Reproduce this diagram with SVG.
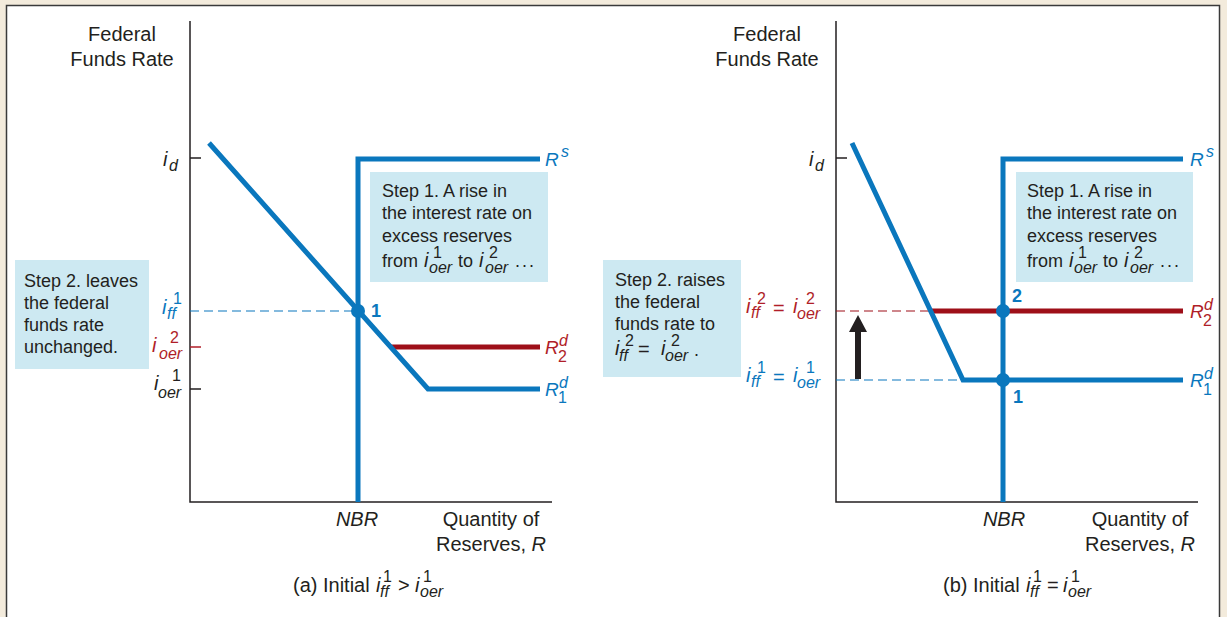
<svg xmlns="http://www.w3.org/2000/svg" width="1227" height="617" viewBox="0 0 1227 617">
<style>
text{font-family:"Liberation Sans",Arial,sans-serif;fill:#231f20}
.l{font-size:20px}
.b{font-size:18px}
.it{font-style:italic}
.mi{font-style:italic;font-size:20px}
.s{font-size:16px}
.m{font-size:16px}
.bl{fill:#0a77bd}
.rd{fill:#b01e28}
.ax{stroke:#231f20;stroke-width:1.5;fill:none}
.cb{stroke:#0a77bd;stroke-width:5;fill:none}
.cr{stroke:#9e0f19;stroke-width:5;fill:none}
.db{stroke:#0a77bd;stroke-width:1.2;stroke-dasharray:9 5;fill:none}
.dr{stroke:#9e0f19;stroke-width:1.2;stroke-dasharray:9 5;fill:none}
.box{fill:#cde9f2}
.pt{fill:#0a77bd}
.n{font-size:18px;font-weight:bold;fill:#0a77bd}
</style>
<rect x="0" y="0" width="1227" height="617" fill="#f3ebdc"/>
<rect x="6.5" y="5.5" width="1213" height="620" fill="#ffffff" stroke="#3a3a3a" stroke-width="1.5"/>

<!-- ===== Panel (a) ===== -->
<g id="panel-a-axes">
<path class="ax" d="M190,21 V502 H552"/>
<path class="ax" d="M190,158 H201 M190,389 H201"/>
<path d="M190,347 H201" stroke="#b01e28" stroke-width="1.5"/>
<text class="l" x="122" y="41" text-anchor="middle">Federal</text>
<text class="l" x="122" y="66" text-anchor="middle">Funds Rate</text>
<text class="l it" x="357" y="526" text-anchor="middle">NBR</text>
<text class="l" x="491" y="526" text-anchor="middle">Quantity of</text>
<text class="l" x="491" y="551" text-anchor="middle">Reserves, <tspan class="it">R</tspan></text>
<text class="l it"><tspan x="163" y="166">i</tspan><tspan class="m" x="169" y="171">d</tspan></text>
<text class="l it bl"><tspan x="162" y="314">i</tspan><tspan class="s" style="font-style:normal" x="173" y="304">1</tspan><tspan class="s" x="167" y="319">ff</tspan></text>
<text class="l it rd"><tspan x="152" y="352">i</tspan><tspan class="s" style="font-style:normal" x="170" y="343">2</tspan><tspan class="m" x="159" y="359">oer</tspan></text>
<text class="l it"><tspan x="154" y="390">i</tspan><tspan class="s" style="font-style:normal" x="172" y="381">1</tspan><tspan class="m" x="158" y="398">oer</tspan></text>
<text class="l"><tspan x="293" y="592">(a) Initial </tspan><tspan class="it" x="376" y="592">i</tspan><tspan class="s" x="383" y="582">1</tspan><tspan class="s it" x="380" y="597">ff</tspan><tspan x="398" y="592">&gt;</tspan><tspan class="it" x="415" y="592">i</tspan><tspan class="s" x="423" y="582">1</tspan><tspan class="m it" x="420" y="597">oer</tspan></text>
</g>

<g id="panel-a-connectors">
<path class="db" d="M190,311 H358"/>
<path class="cr" d="M391,347 H540"/>
<path class="cb" d="M209,143 L428,389 H540"/>
<path class="cb" d="M358,502 V159 H540"/>
</g>

<g id="a-point-1">
<circle class="pt" cx="358" cy="311" r="7"/>
<text class="n" x="371" y="317">1</text>
</g>

<g id="a-curve-labels">
<text class="l it bl" style="font-size:19px"><tspan x="545" y="166">R</tspan><tspan class="s" x="561" y="157">s</tspan></text>
<text class="l it rd" style="font-size:19px"><tspan x="545" y="354">R</tspan><tspan class="s" x="559" y="346">d</tspan><tspan class="s" style="font-style:normal" x="558" y="362">2</tspan></text>
<text class="l it bl" style="font-size:19px"><tspan x="545" y="396">R</tspan><tspan class="s" x="559" y="388">d</tspan><tspan class="s" style="font-style:normal" x="558" y="403">1</tspan></text>
</g>

<g id="a-step1">
<rect class="box" x="370" y="172" width="178" height="110"/>
<text class="b" x="382" y="197">Step 1. A rise in</text>
<text class="b" x="382" y="219">the interest rate on</text>
<text class="b" x="382" y="242">excess reserves</text>
<text class="b"><tspan x="382" y="267">from </tspan><tspan class="mi" x="424" y="267">i</tspan><tspan class="s" x="433" y="258">1</tspan><tspan class="m it" x="429" y="273">oer</tspan><tspan x="458" y="267">to</tspan><tspan class="mi" x="479" y="267">i</tspan><tspan class="s" x="489" y="258">2</tspan><tspan class="m it" x="485" y="273">oer</tspan><tspan x="515" y="267" style="word-spacing:-3px">. . .</tspan></text>
</g>

<g id="a-step2">
<rect class="box" x="15" y="260" width="134" height="109"/>
<text class="b" x="24" y="287">Step 2. leaves</text>
<text class="b" x="24" y="309">the federal</text>
<text class="b" x="24" y="331">funds rate</text>
<text class="b" x="24" y="353">unchanged.</text>
</g>

<!-- ===== Panel (b) ===== -->
<g id="panel-b-axes">
<path class="ax" d="M836,21 V502 H1198"/>
<path class="ax" d="M836,158 H847"/>
<text class="l" x="767" y="41" text-anchor="middle">Federal</text>
<text class="l" x="767" y="66" text-anchor="middle">Funds Rate</text>
<text class="l it" x="1004" y="526" text-anchor="middle">NBR</text>
<text class="l" x="1140" y="526" text-anchor="middle">Quantity of</text>
<text class="l" x="1140" y="551" text-anchor="middle">Reserves, <tspan class="it">R</tspan></text>
<text class="l it"><tspan x="809" y="166">i</tspan><tspan class="m" x="815" y="171">d</tspan></text>
<text class="l it rd"><tspan x="746" y="313">i</tspan><tspan class="s" style="font-style:normal" x="757" y="304">2</tspan><tspan class="s" x="751" y="318">ff</tspan><tspan style="font-style:normal" x="773" y="315">=</tspan><tspan x="793" y="313">i</tspan><tspan class="s" style="font-style:normal" x="806" y="304">2</tspan><tspan class="m" x="797" y="319">oer</tspan></text>
<text class="l it bl"><tspan x="746" y="382">i</tspan><tspan class="s" style="font-style:normal" x="757" y="373">1</tspan><tspan class="s" x="751" y="387">ff</tspan><tspan style="font-style:normal" x="773" y="384">=</tspan><tspan x="793" y="382">i</tspan><tspan class="s" style="font-style:normal" x="806" y="373">1</tspan><tspan class="m" x="797" y="388">oer</tspan></text>
<text class="l"><tspan x="943" y="592">(b) Initial </tspan><tspan class="it" x="1026" y="592">i</tspan><tspan class="s" x="1033" y="582">1</tspan><tspan class="s it" x="1030" y="597">ff</tspan><tspan x="1047" y="592">=</tspan><tspan class="it" x="1063" y="592">i</tspan><tspan class="s" x="1071" y="582">1</tspan><tspan class="m it" x="1068" y="597">oer</tspan></text>
</g>

<g id="panel-b-connectors">
<path class="dr" d="M836,311 H931"/>
<path class="db" d="M836,380 H963"/>
<path class="cr" d="M931,311 H1183"/>
<path class="cb" d="M852,143 L963,380 H1183"/>
<path class="cb" d="M1003,502 V159 H1183"/>
<path d="M855,379 V332 H849 L858,315 L867,332 H861 V379 Z" fill="#231f20"/>
</g>

<g id="b-point-2">
<circle class="pt" cx="1003" cy="311" r="7"/>
<text class="n" x="1012" y="302">2</text>
</g>
<g id="b-point-1">
<circle class="pt" cx="1003" cy="380" r="7"/>
<text class="n" x="1013" y="403">1</text>
</g>

<g id="b-curve-labels">
<text class="l it bl" style="font-size:19px"><tspan x="1190" y="166">R</tspan><tspan class="s" x="1206" y="157">s</tspan></text>
<text class="l it rd" style="font-size:19px"><tspan x="1190" y="318">R</tspan><tspan class="s" x="1204" y="310">d</tspan><tspan class="s" style="font-style:normal" x="1203" y="326">2</tspan></text>
<text class="l it bl" style="font-size:19px"><tspan x="1190" y="387">R</tspan><tspan class="s" x="1204" y="379">d</tspan><tspan class="s" style="font-style:normal" x="1203" y="395">1</tspan></text>
</g>

<g id="b-step1">
<rect class="box" x="1016" y="172" width="177" height="110"/>
<text class="b" x="1027" y="197">Step 1. A rise in</text>
<text class="b" x="1027" y="219">the interest rate on</text>
<text class="b" x="1027" y="242">excess reserves</text>
<text class="b"><tspan x="1027" y="267">from </tspan><tspan class="mi" x="1069" y="267">i</tspan><tspan class="s" x="1078" y="258">1</tspan><tspan class="m it" x="1074" y="273">oer</tspan><tspan x="1103" y="267">to</tspan><tspan class="mi" x="1124" y="267">i</tspan><tspan class="s" x="1134" y="258">2</tspan><tspan class="m it" x="1130" y="273">oer</tspan><tspan x="1160" y="267" style="word-spacing:-3px">. . .</tspan></text>
</g>

<g id="b-step2">
<rect class="box" x="603" y="260" width="138" height="117"/>
<text class="b" x="615" y="286">Step 2. raises</text>
<text class="b" x="615" y="308">the federal</text>
<text class="b" x="615" y="330">funds rate to</text>
<text class="b"><tspan class="mi" x="615" y="355">i</tspan><tspan class="s" x="625" y="346">2</tspan><tspan class="s it" x="619" y="361">ff</tspan><tspan x="638" y="356" style="font-size:20px">=</tspan><tspan class="mi" x="661" y="355">i</tspan><tspan class="s" x="671" y="346">2</tspan><tspan class="m it" x="665" y="361">oer</tspan><tspan x="694" y="356">.</tspan></text>
</g>
</svg>
